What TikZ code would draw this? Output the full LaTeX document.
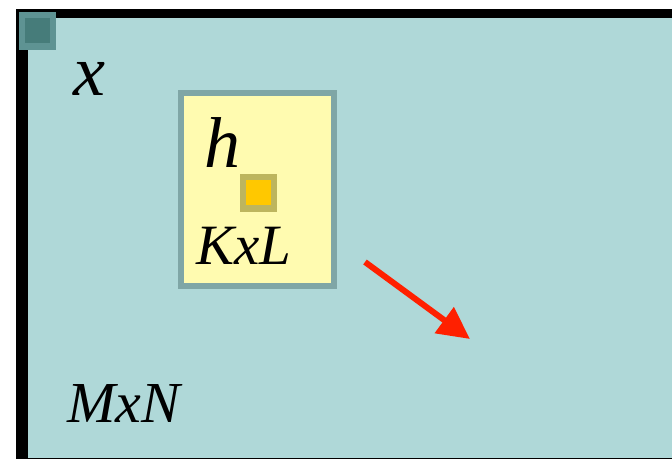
\documentclass[tikz,border=0pt]{standalone}
\usepackage{fontspec}
\setmainfont{Liberation Serif}[ItalicFont={Liberation Serif Italic}]
\usetikzlibrary{arrows.meta}
\definecolor{imgbg}{HTML}{AFD8D8}
\definecolor{pixouter}{HTML}{5E9393}
\definecolor{pixinner}{HTML}{467C7A}
\definecolor{kerframe}{HTML}{7FA6A6}
\definecolor{kerfill}{HTML}{FFFBB0}
\definecolor{ctrframe}{HTML}{BDB55E}
\definecolor{ctrfill}{HTML}{FFC800}
\definecolor{slidered}{HTML}{FF2000}

\begin{document}
\begin{tikzpicture}[x=1pt, y=-1pt,
  lbl/.style={inner sep=0pt, anchor=base west, font=\itshape},
  slide/.style={draw=slidered, line width=6pt, -{Triangle[length=32pt, width=31pt]}},
]
\useasboundingbox (0,0) rectangle (672,459);
% image x (MxN), black frame on top and left
\fill[imgbg] (16,9) rectangle (672,459);
\fill[black] (16,9) rectangle (28,459);
\fill[black] (16,9) rectangle (672,18);
\fill[black] (16,457.5) rectangle (672,459);
% first pixel
\fill[pixouter] (19,12) rectangle (56,50);
\fill[pixinner] (25,18) rectangle (50,43);
\node[lbl, font=\itshape\fontsize{72}{72}\selectfont] (xname) at (73,95) {x};
\node[lbl, font=\itshape\fontsize{58}{58}\selectfont] (imgsize) at (67,422) {MxN};
% kernel h (KxL)
\fill[kerframe] (178,90) rectangle (337,289);
\fill[kerfill] (184,96) rectangle (331,283);
\fill[ctrframe] (240,174) rectangle (277,212);
\fill[ctrfill] (246,180) rectangle (271,205);
\node[lbl, font=\itshape\fontsize{72}{72}\selectfont] (hname) at (204,167) {h};
\node[lbl, font=\itshape\fontsize{57}{57}\selectfont] (kersize) at (196,264) {KxL};
% sliding direction
\coordinate (slidefrom) at (365,262);
\coordinate (slideto) at (470,339);
\draw[slide] (slidefrom) -- (slideto);
\end{tikzpicture}
\end{document}
